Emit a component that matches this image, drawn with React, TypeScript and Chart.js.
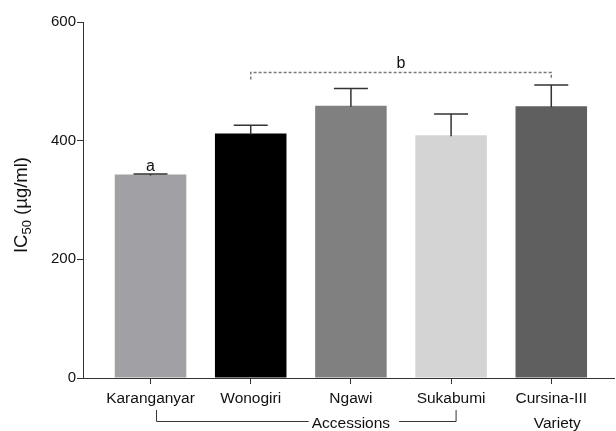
import React, { useEffect, useRef } from "react";
import { Chart, registerables } from "chart.js";

Chart.register(...registerables);

const categories = ["Karanganyar", "Wonogiri", "Ngawi", "Sukabumi", "Cursina-III"];
const ic50Values = [343, 412, 459, 409, 458];
const ic50Errors = [1, 14, 29, 36, 36];
const barColors = ["#a1a0a4", "#000000", "#808080", "#d4d4d4", "#5f5f5f"];
const yTickValues = [0, 200, 400, 600];
const groupLabels = ["Accessions", "Variety"];
const significanceLetters = ["a", "b"];
const bracketValue = 515;
const bracketDrop = 12;

const FONT = "'Liberation Sans', Arial, Helvetica, sans-serif";
const TEXT = "#111111";
const AXIS = "#333333";

const annotationPlugin = {
  id: "annotations",
  afterDatasetsDraw(chart: any) {
    const ctx = chart.ctx as CanvasRenderingContext2D;
    const xs = chart.scales.x;
    const ys = chart.scales.y;
    const area = chart.chartArea;
    ctx.save();

    // error bars (upper only)
    ctx.strokeStyle = AXIS;
    ctx.lineWidth = 1.5;
    categories.forEach((_, i) => {
      const x = xs.getPixelForValue(i);
      const yTop = ys.getPixelForValue(ic50Values[i]);
      const yErr = ys.getPixelForValue(ic50Values[i] + ic50Errors[i]);
      ctx.beginPath();
      ctx.moveTo(x, yTop + 1);
      ctx.lineTo(x, yErr);
      ctx.moveTo(x - 17, yErr);
      ctx.lineTo(x + 17, yErr);
      ctx.stroke();
    });

    // letter a
    ctx.fillStyle = TEXT;
    ctx.font = `16px ${FONT}`;
    ctx.textAlign = "center";
    ctx.textBaseline = "alphabetic";
    const ax = xs.getPixelForValue(0);
    const ay = ys.getPixelForValue(ic50Values[0] + ic50Errors[0]) - 3;
    ctx.fillText(significanceLetters[0], ax, ay);

    // dashed bracket b
    const bx1 = xs.getPixelForValue(1);
    const bx2 = xs.getPixelForValue(4);
    const by = ys.getPixelForValue(bracketValue);
    const byEnd = ys.getPixelForValue(bracketValue - bracketDrop);
    ctx.strokeStyle = "#7a7a7a";
    ctx.lineWidth = 1.5;
    ctx.setLineDash([3, 2]);
    ctx.beginPath();
    ctx.moveTo(bx1, byEnd);
    ctx.lineTo(bx1, by);
    ctx.lineTo(bx2, by);
    ctx.lineTo(bx2, byEnd);
    ctx.stroke();
    ctx.setLineDash([]);
    ctx.fillText(significanceLetters[1], (bx1 + bx2) / 2, by - 4);

    // group labels
    ctx.font = `15.5px ${FONT}`;
    const gy = area.bottom + 50;
    const accX = xs.getPixelForValue(2);
    ctx.fillText(groupLabels[0], accX, gy);
    ctx.fillText(groupLabels[1], xs.getPixelForValue(4) + 6, gy);
    const accW = ctx.measureText(groupLabels[0]).width;
    const lx = xs.getPixelForValue(0) + 6;
    const rx = xs.getPixelForValue(3) + 5;
    const lineY = gy - 6.5;
    const topY = lineY - 11.5;
    ctx.strokeStyle = AXIS;
    ctx.lineWidth = 1;
    ctx.beginPath();
    ctx.moveTo(lx, topY);
    ctx.lineTo(lx, lineY);
    ctx.lineTo(accX - accW / 2 - 3, lineY);
    ctx.moveTo(accX + accW / 2 + 9, lineY);
    ctx.lineTo(rx, lineY);
    ctx.lineTo(rx, topY);
    ctx.stroke();

    // y axis title with subscript
    const main1 = "IC";
    const sub = "50";
    const main2 = " (µg/ml)";
    const mainFont = `18.5px ${FONT}`;
    const subFont = `13px ${FONT}`;
    ctx.font = mainFont;
    const w1 = ctx.measureText(main1).width;
    const w3 = ctx.measureText(main2).width;
    ctx.font = subFont;
    const w2 = ctx.measureText(sub).width;
    const total = w1 + w2 + w3;
    const cy = (area.top + area.bottom) / 2 + 5;
    ctx.translate(area.left - 56, cy);
    ctx.rotate(-Math.PI / 2);
    ctx.textAlign = "left";
    let px = -total / 2;
    ctx.font = mainFont;
    ctx.fillText(main1, px, 0);
    px += w1;
    ctx.font = subFont;
    ctx.fillText(sub, px, 4);
    px += w2;
    ctx.font = mainFont;
    ctx.fillText(main2, px, 0);

    ctx.restore();
  },
};

export default function App() {
  const canvasRef = useRef<HTMLCanvasElement | null>(null);

  useEffect(() => {
    document.body.style.margin = "0";
    const canvas = canvasRef.current;
    if (!canvas) return;
    const chart = new Chart(canvas, {
      type: "bar",
      data: {
        datasets: [
          {
            data: categories.map((_, i) => ({ x: i, y: ic50Values[i] })),
            backgroundColor: barColors,
            borderWidth: 0,
            categoryPercentage: 1,
            barPercentage: 0.714,
          },
        ],
      },
      options: {
        animation: false,
        responsive: false,
        maintainAspectRatio: false,
        devicePixelRatio: 1,
        layout: { padding: { top: 22, right: 2, left: 0, bottom: 0 } },
        plugins: {
          legend: { display: false },
          tooltip: { enabled: false },
          title: { display: false },
        },
        scales: {
          x: {
            type: "linear",
            offset: false,
            min: -0.674,
            max: 4.626,
            afterBuildTicks: (s: any) => {
              s.ticks = categories.map((_, i) => ({ value: i }));
            },
            afterFit: (s: any) => {
              s.height = 53;
            },
            grid: {
              display: true,
              offset: false,
              drawOnChartArea: false,
              drawTicks: true,
              tickLength: 6,
              color: AXIS,
              lineWidth: 1,
            },
            border: { display: true, color: AXIS, width: 1 },
            ticks: {
              autoSkip: false,
              maxRotation: 0,
              minRotation: 0,
              padding: 5,
              color: TEXT,
              font: { family: FONT, size: 15.5 },
              callback: (v: any) => categories[Math.round(Number(v))] ?? "",
            },
          },
          y: {
            min: 0,
            max: 600,
            afterBuildTicks: (s: any) => {
              s.ticks = yTickValues.map((v) => ({ value: v }));
            },
            afterFit: (s: any) => {
              s.width = 83;
            },
            grid: {
              display: true,
              drawOnChartArea: false,
              drawTicks: true,
              tickLength: 6,
              color: AXIS,
              lineWidth: 1,
            },
            border: { display: true, color: AXIS, width: 1 },
            ticks: {
              padding: 1,
              color: TEXT,
              font: { family: FONT, size: 15 },
            },
          },
        },
      },
      plugins: [annotationPlugin],
    } as any);
    return () => chart.destroy();
  }, []);

  return (
    <div style={{ width: 616, height: 431, background: "#ffffff" }}>
      <canvas ref={canvasRef} width={616} height={431} style={{ display: "block" }} />
    </div>
  );
}
